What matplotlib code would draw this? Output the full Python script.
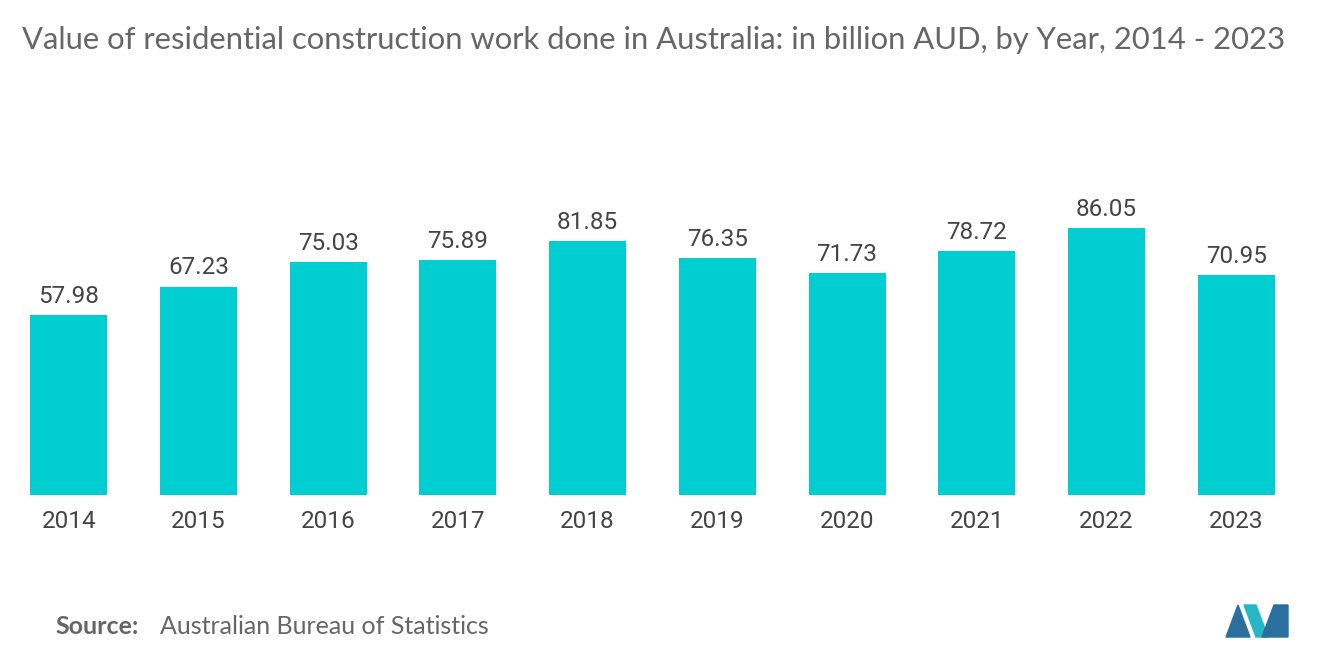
import matplotlib
matplotlib.use("Agg")
import matplotlib.pyplot as plt
from matplotlib.patches import Polygon

years = ["2014", "2015", "2016", "2017", "2018", "2019", "2020", "2021", "2022", "2023"]
values = [57.98, 67.23, 75.03, 75.89, 81.85, 76.35, 71.73, 78.72, 86.05, 70.95]

W, H = 1320, 665
fig = plt.figure(figsize=(W/100, H/100), dpi=100)
ax = fig.add_axes([4/W, (H-495)/H, (1301-4)/W, 310/H])
x = range(len(years))
ax.bar(x, values, width=0.594, color="#00CED1")
ax.set_xlim(-0.5, 9.5)
ax.set_ylim(0, 100)
for i, v in zip(x, values):
    ax.text(i, v + 2.3, f"{v:.2f}", ha="center", va="bottom", fontsize=17.5, color="#444444", family="Roboto")
ax.set_xticks(list(x))
ax.set_xticklabels(years, fontsize=17.5, color="#444444", family="Roboto")
ax.tick_params(axis="x", length=0, pad=11)
ax.set_yticks([])
for s in ax.spines.values():
    s.set_visible(False)

fig.text(22/W, 1-40/H, "Value of residential construction work done in Australia: in billion AUD, by Year, 2014 - 2023",
         fontsize=22.3, color="#666666", family="Lato", va="center", ha="left")
fig.text(55/W, 1-627/H, "Source:", fontsize=18, color="#666666", family="Lato", fontweight="bold", va="center")
fig.text(160/W, 1-627/H, "Australian Bureau of Statistics", fontsize=18, color="#666666", family="Lato", va="center")

def P(pts, c):
    fig.patches.append(Polygon([(px/W, 1-py/H) for px, py in pts], closed=True, color=c, transform=fig.transFigure))
P([(1226, 637), (1238, 605), (1250, 637)], "#2A6F9E")
P([(1244, 605), (1256, 605), (1268, 637), (1256, 637)], "#27B6C6")
P([(1262, 637), (1274, 605), (1288, 605), (1288, 637)], "#2A6F9E")

fig.savefig("out.png", dpi=100)
